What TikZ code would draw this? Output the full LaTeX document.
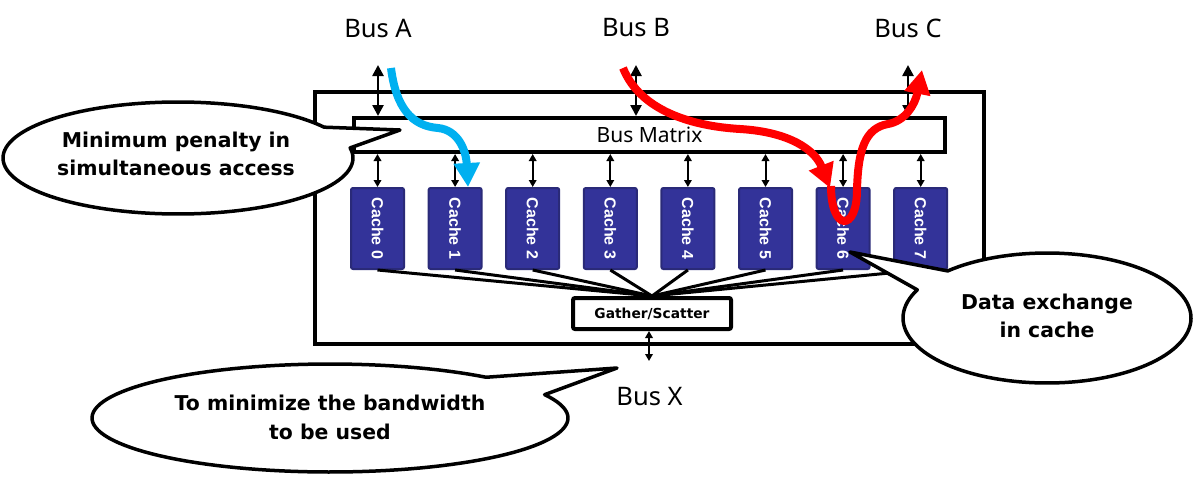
\documentclass[tikz,border=0pt]{standalone}
\usepackage{fontspec}
\setmainfont{Noto Sans}
\newfontfamily\bubblefont{DejaVu Sans}
\newfontfamily\cachefont{Liberation Sans Bold}
\usetikzlibrary{arrows.meta}
\definecolor{cachefill}{HTML}{333399}
\definecolor{cacheedge}{HTML}{2A2A78}
\definecolor{flowblue}{HTML}{00B0F0}
\definecolor{flowred}{HTML}{FF0000}
\begin{document}
\begin{tikzpicture}[x=1pt,y=-1pt,
  boxline/.style={line width=4pt},
  matrixbox/.style={draw, fill=white, line width=4pt, minimum width=591pt, minimum height=34pt, inner sep=0pt,
    font=\fontsize{21}{24}\selectfont},
  gatherbox/.style={draw, fill=white, line width=4pt, rounded corners=2pt, minimum width=158pt, minimum height=31pt, inner sep=0pt,
    font=\bubblefont\bfseries\fontsize{13.8}{16}\selectfont},
  cachebox/.style={draw=cacheedge, fill=cachefill, line width=2pt, rounded corners=2pt, minimum width=53pt, minimum height=81pt, inner sep=0pt},
  cachelabel/.style={rotate=-90, text=white, inner sep=0pt, font=\cachefont\fontsize{16}{18}\selectfont},
  smallarrow/.style={line width=2pt, {Triangle[length=7pt,width=7.5pt]}-{Triangle[length=7pt,width=7.5pt]}},
  busarrow/.style={line width=2.5pt, {Triangle[length=11pt,width=11pt]}-{Triangle[length=11pt,width=11pt]}},
  fanline/.style={line width=3pt},
  bubble/.style={draw, fill=white, line width=3.5pt, line join=round},
  bubbletext/.style={font=\bubblefont\bfseries\fontsize{20.4}{28.5}\selectfont, align=center},
  buslabel/.style={font=\fontsize{25.5}{30}\selectfont},
  flow/.style={line width=8pt, -{Triangle[length=24pt,width=25pt]}}
]
\useasboundingbox (0,0) rectangle (1193,479);

% outer chip box
\draw[boxline] (315,92) rectangle (984,344);

% bus matrix
\node[matrixbox] (bm) at (649.5,135) {Bus Matrix};

% caches
\foreach \i in {0,...,7}{
  \node[cachebox] (c\i) at ({377.5+77.6*\i},228.5) {};
  \node[cachelabel] (cl\i) at (c\i) {Cache \i};
}

% gather / scatter
\node[gatherbox] (gs) at (652,313.5) {Gather/Scatter};
\foreach \i in {0,...,7}{
  \draw[fanline] (c\i.south) -- (gs.north);
  \draw[smallarrow] (c\i.north |- bm.south) -- (c\i.north);
}

% bus arrows
\coordinate (ta) at (378,65);
\coordinate (tb) at (636,65);
\coordinate (tc) at (908,65);
\coordinate (tx) at (649,361);
\draw[busarrow] (ta) -- (ta |- bm.north);
\draw[busarrow] (tb) -- (tb |- bm.north);
\draw[busarrow] (tc) -- (tc |- bm.north);
\draw[smallarrow] (gs.south -| tx) -- (tx);

% bus labels
\node[buslabel] (la) at (378,28) {Bus A};
\node[buslabel] (lb) at (636,28) {Bus B};
\node[buslabel] (lc) at (908,28) {Bus C};
\node[buslabel] (lx) at (649.5,396.5) {Bus X};

% data flows
\coordinate (fa0) at (391,68);
\coordinate (fa1) at (468,187);
\draw[flow, flowblue] (fa0) .. controls (396,108) and (412,126) .. (438,128)
   .. controls (458,130) and (466,150) .. (fa1);
\coordinate (fb0) at (623,68);
\coordinate (fb1) at (830,188);
\draw[flow, flowred] (fb0) .. controls (640,110) and (690,126) .. (740,129)
   .. controls (790,132) and (815,150) .. (fb1);
\coordinate (fc0) at (831,186);
\coordinate (fc1) at (922,70);
\draw[flow, flowred] (fc0) .. controls (831,232) and (857,232) .. (857,190)
   .. controls (858,150) and (865,128) .. (888,124)
   .. controls (905,121) and (915,105) .. (fc1);

% callout bubbles
\draw[bubble] plot[domain=-10.4:326.6, samples=120] ({178+175*cos(\x)},{158+56*sin(\x)}) -- (400,130) -- cycle;
\draw[bubble] plot[domain=-25.6:311, samples=120] ({330+238*cos(\x)},{418+54*sin(\x)}) -- (617,368) -- cycle;
\draw[bubble] plot[domain=226.4:565.7, samples=120] ({1047+144*cos(\x)},{318+65*sin(\x)}) -- (850,252) -- cycle;

\node[bubbletext] (t1) at (176,154) {Minimum penalty in\\simultaneous access};
\node[bubbletext] (t2) at (330,417.5) {To minimize the bandwidth\\to be used};
\node[bubbletext] (t3) at (1047,316) {Data exchange\\in cache};
\end{tikzpicture}
\end{document}
